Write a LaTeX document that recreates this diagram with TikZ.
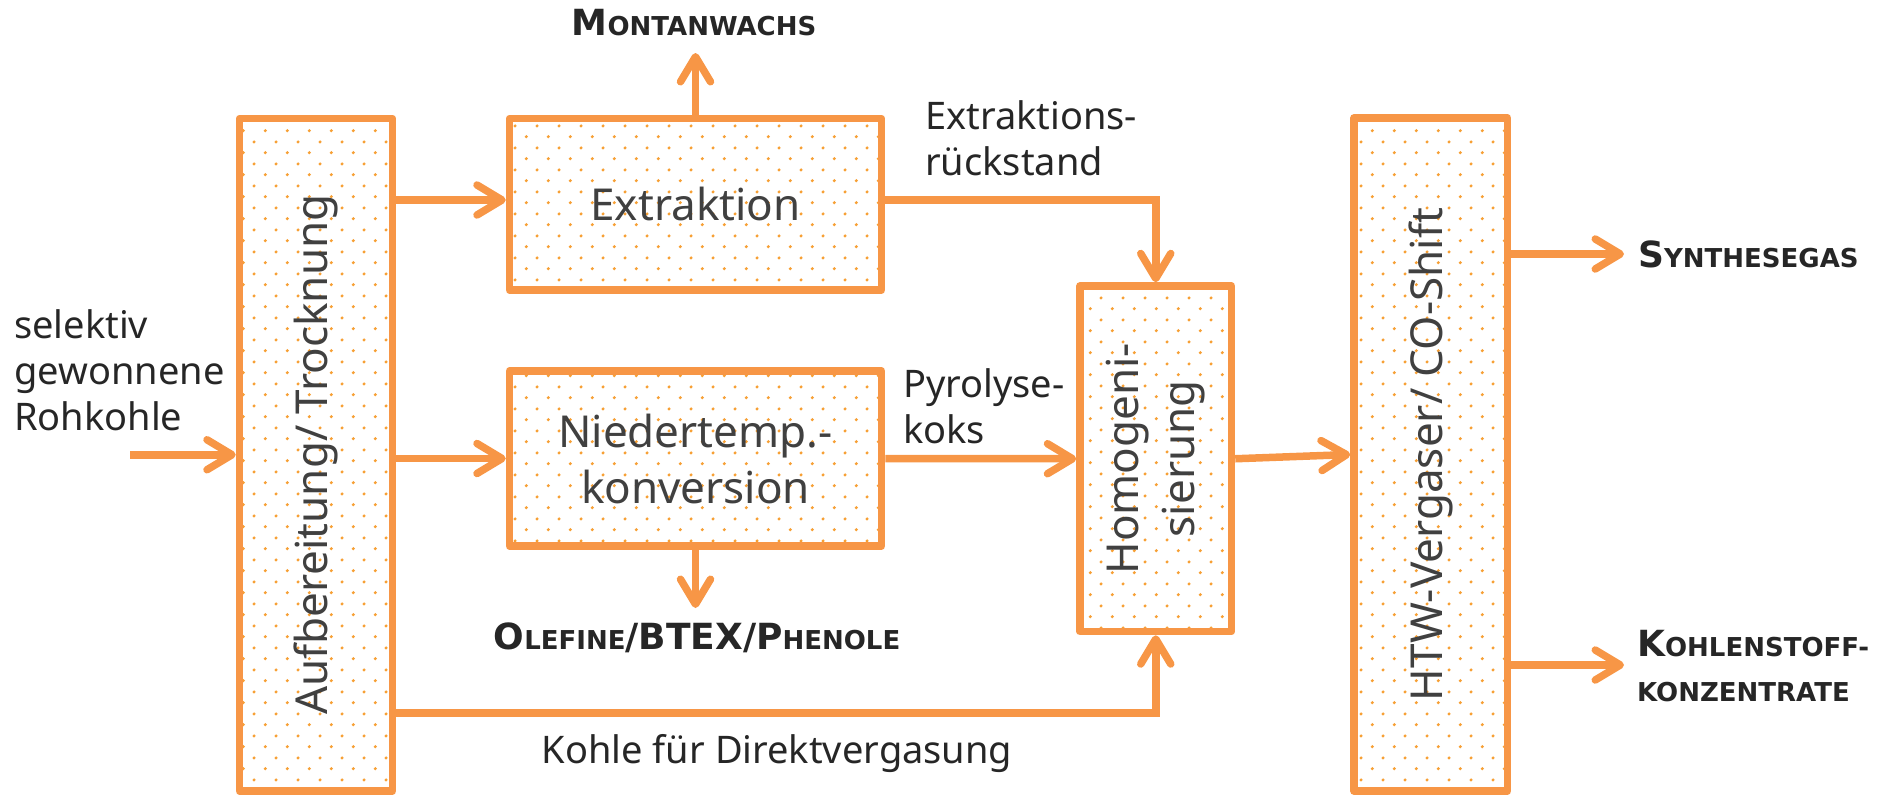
\documentclass[tikz,border=0pt]{standalone}
\usepackage{fontspec}
\usepackage{graphicx}
\setmainfont{Noto Sans}
\newfontfamily\bfam{DejaVu Sans}
\usetikzlibrary{arrows.meta,patterns.meta}
\definecolor{orng}{HTML}{F79646}
\definecolor{dotc}{HTML}{F7A035}
\definecolor{boxtxt}{HTML}{404040}
\definecolor{lbltxt}{HTML}{262626}
\tikzdeclarepattern{
  name=odots, type=colored,
  bounding box={(0pt,0pt) and (21.7pt,21.7pt)},
  tile size={(21.7pt,21.7pt)},
  code={\fill[dotc] (5.4pt,5.4pt) circle[radius=1.7pt];
        \fill[dotc] (16.25pt,16.25pt) circle[radius=1.7pt];}
}
\newcommand{\fsc}[2]{#1{\fontsize{26pt}{26pt}\selectfont #2}}
\begin{document}
\begin{tikzpicture}[x=1pt,y=-1pt]
\tikzset{
 box/.style={preaction={fill=white}, preaction={pattern=odots}, draw=orng, line width=7.5pt, line join=round,
   inner sep=0pt, text=boxtxt, font=\fontsize{44pt}{56pt}\selectfont, align=center},
 lbl/.style={text=lbltxt, inner sep=0pt, font=\fontsize{38pt}{46pt}\selectfont, align=left},
 blbl/.style={text=lbltxt, inner sep=0pt, font=\bfam\bfseries\fontsize{36pt}{45pt}\selectfont},
 arr/.style={draw=orng, line width=7.5pt, -{Straight Barb[length=25pt,width=30pt,round]}}
}
\path[use as bounding box] (0,0) rectangle (1881,795);

\node[box, minimum width=153pt, minimum height=672.5pt] (aufb) at (316,454.75) {\rotatebox{90}{Aufbereitung/ Trocknung}};
\node[box, minimum width=372pt, minimum height=171.5pt] (extr) at (695.5,204.25) {Extraktion};
\node[box, minimum width=372pt, minimum height=175pt] (nied) at (695.5,458.5) {Niedertemp.-\\konversion};
\node[box, minimum width=151.5pt, minimum height=345.5pt] (homog) at (1155.75,458.75) {\rotatebox{90}{\begin{tabular}{@{}c@{}}Homogeni-\\sierung\end{tabular}}};
\node[box, minimum width=153.5pt, minimum height=673pt] (htw) at (1430.75,454.5) {\rotatebox{90}{HTW-Vergaser/ CO-Shift}};

\node[lbl, anchor=base west] (rohk) at (14,430) {selektiv\\gewonnene\\Rohkohle};
\node[lbl, anchor=base west] (extrlbl) at (925,175) {Extraktions-\\rückstand};
\node[lbl, anchor=base west] (pyro) at (903,443) {Pyrolyse-\\koks};
\node[lbl, anchor=base] (kohle) at (777,763) {Kohle für Direktvergasung};
\node[blbl, anchor=base] (mont) at (694,35) {\fsc{M}{ONTANWACHS}};
\node[blbl, anchor=base] (olef) at (697,649) {\fsc{O}{LEFINE}/BTEX/\fsc{P}{HENOLE}};
\node[blbl, anchor=base west] (syn) at (1638,267) {\fsc{S}{YNTHESEGAS}};
\node[blbl, anchor=base west, align=left] (kst) at (1637,701) {\fsc{K}{OHLENSTOFF-}\\\fsc{}{KONZENTRATE}};

\coordinate (inS) at (130,454.75);
\coordinate (yA) at (0,200);
\coordinate (yB) at (0,713);
\coordinate (montT) at (695.5,53);
\coordinate (oleT) at (695.5,608);
\coordinate (synT) at (1624,254);
\coordinate (kstT) at (1624,665);

\draw[arr] (inS) -- (aufb.west);
\draw[arr] (aufb.east |- yA) -- (extr.west |- yA);
\draw[arr] (aufb.east |- nied.west) -- (nied.west);
\draw[arr] (extr.north) -- (montT);
\draw[arr] (nied.south) -- (oleT);
\draw[arr] (extr.east |- yA) -| (homog.north);
\draw[arr] (nied.east) -- (homog.west);
\draw[arr] (aufb.east |- yB) -| (homog.south);
\draw[arr] (homog.east) -- (htw.west);
\draw[arr] (htw.east |- synT) -- (synT);
\draw[arr] (htw.east |- kstT) -- (kstT);
\end{tikzpicture}
\end{document}
